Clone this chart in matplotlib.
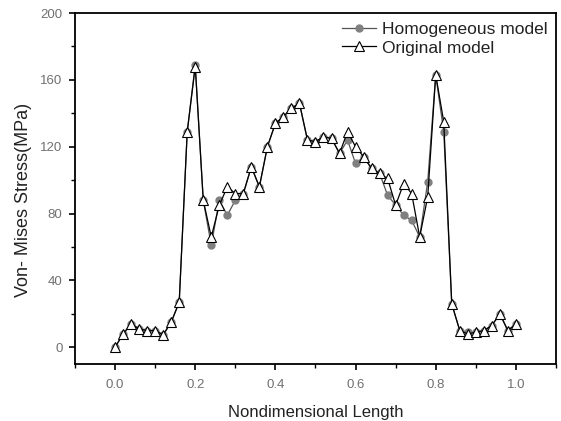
import numpy as np
import matplotlib.pyplot as plt
from matplotlib.ticker import MultipleLocator

plt.rcParams['font.family'] = ['Liberation Sans', 'DejaVu Sans']

x = np.round(np.arange(0, 1.0001, 0.02), 2)

original = [0, 8, 14, 11, 10, 10, 7.5, 15, 27, 129,
            168, 88, 66, 85, 96, 92, 92, 108, 96, 120,
            134, 138, 143, 146, 124, 123, 126, 125, 116, 129,
            120, 114, 107, 104, 101, 85, 98, 92, 66, 90,
            163, 135, 26, 10, 8, 9, 10, 13, 20, 10, 14]

homogeneous = [0, 8, 14, 11, 10, 10, 7.5, 15, 27, 129,
               169, 88, 61, 88, 79, 88, 92, 108, 96, 120,
               134, 138, 143, 146, 124, 123, 126, 125, 116, 124,
               110, 114, 107, 104, 91, 85, 79, 76, 66, 99,
               163, 129, 26, 10, 9, 9, 10, 13, 20, 10, 14]

fig = plt.figure(figsize=(5.61, 4.21), dpi=100)
ax = fig.add_axes([0.1337, 0.1354, 0.8573, 0.8336])

ax.plot(x, homogeneous, color='#555555', lw=0.9, marker='o', ms=5,
        mfc='#808080', mec='#808080', label='Homogeneous model')
ax.plot(x, original, color='black', lw=0.9, marker='^', ms=7.5,
        mfc='white', mec='black', mew=0.8, label='Original model')

ax.set_xlim(-0.1, 1.1)
ax.set_ylim(-10, 200)
ax.xaxis.set_major_locator(MultipleLocator(0.2))
ax.xaxis.set_minor_locator(MultipleLocator(0.1))
ax.yaxis.set_major_locator(MultipleLocator(40))
ax.yaxis.set_minor_locator(MultipleLocator(20))
ax.tick_params(which='both', direction='out', labelsize=9.5, labelcolor='#707070')
ax.tick_params(axis='x', which='major', pad=7)
ax.tick_params(axis='y', which='major', pad=5)
ax.tick_params(which='major', length=4, width=1.2)
ax.tick_params(which='minor', length=3, width=1)
for s in ax.spines.values():
    s.set_linewidth(1.3)

ax.set_xlabel('Nondimensional Length', fontsize=12, labelpad=10, color='#222222')
ax.set_ylabel('Von- Mises Stress(MPa)', fontsize=13, color='#222222')
ax.yaxis.set_label_coords(-0.089, 0.467)

ax.legend(loc='upper right', frameon=False, fontsize=12.5, handlelength=2.0,
          handletextpad=0.3, borderaxespad=0.1, labelspacing=0.2,
          labelcolor='#222222')

fig.savefig('out.png', dpi=100)
